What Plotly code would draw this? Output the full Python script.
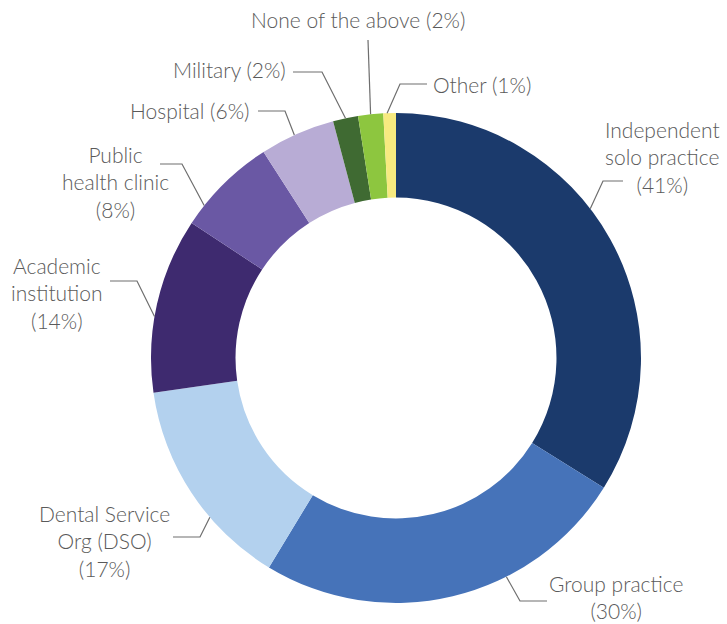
import math
import plotly.graph_objects as go

# data
labels = ['Independent solo practice', 'Group practice', 'Dental Service Org (DSO)',
          'Academic institution', 'Public health clinic', 'Hospital', 'Military',
          'None of the above', 'Other']
values = [41, 30, 17, 14, 8, 6, 2, 2, 1]
colors = ['#1b3a6c', '#4673b9', '#b3d1ee', '#3e2a6f', '#6a58a4',
          '#b8acd5', '#3f6a32', '#8dc63f', '#f7ea80']
label_text = ['Independent<br>solo practice<br>(41%)', 'Group practice<br>(30%)',
              'Dental Service<br>Org (DSO)<br>(17%)', 'Academic<br>institution<br>(14%)',
              'Public<br>health clinic<br>(8%)', 'Hospital (6%)', 'Military (2%)',
              'None of the above (2%)', 'Other (1%)']

W, H = 727, 624
CX, CY, R = 396, 358, 245

# label layout: text pos (px), anchor, leader: fraction along slice, elbow, end
label_layout = [
    dict(tx=662, ty=157, xa='center', frac=0.43, elbow=(603, 181), end=(623, 181)),
    dict(tx=616, ty=597, xa='center', frac=0.35, elbow=(520, 601), end=(547, 601)),
    dict(tx=104, ty=541, xa='center', frac=0.36, elbow=(200, 537), end=(173, 537)),
    dict(tx=57, ty=293, xa='center', frac=0.43, elbow=(137, 281), end=(110, 281)),
    dict(tx=115, ty=182, xa='center', frac=0.21, elbow=(182, 164), end=(160, 164)),
    dict(tx=252, ty=110, xa='right', frac=0.46, elbow=(285, 111), end=(258, 111)),
    dict(tx=288, ty=69, xa='right', frac=0.5, elbow=(322, 72), end=(293, 72)),
    dict(tx=358, ty=19, xa='center', frac=0.5, elbow=None, end=(368, 40)),
    dict(tx=431, ty=85, xa='left', frac=0.3, elbow=(400, 84), end=(427, 84)),
]


def px(x, y):
    return x / W, 1 - y / H


fig = go.Figure(go.Pie(
    labels=labels,
    values=values,
    sort=False,
    direction='clockwise',
    rotation=0,
    hole=0.655,
    textinfo='none',
    marker=dict(colors=colors, line=dict(width=0)),
    domain=dict(x=[(CX - R) / W, (CX + R) / W], y=[(H - CY - R) / H, (H - CY + R) / H]),
    showlegend=False,
))

total = sum(values)
cum = 0
shapes = []
annotations = []
for v, txt, lay in zip(values, label_text, label_layout):
    ang = (cum + lay['frac'] * v) / total * 2 * math.pi
    cum += v
    sx, sy = CX + R * math.sin(ang), CY - R * math.cos(ang)
    pts = [(sx, sy)]
    if lay['elbow']:
        pts.append(lay['elbow'])
    pts.append(lay['end'])
    path = 'M ' + ' L '.join(f'{px(x, y)[0]:.5f},{px(x, y)[1]:.5f}' for x, y in pts)
    shapes.append(dict(type='path', path=path, xref='paper', yref='paper',
                       line=dict(color='#6e6e6e', width=1.2)))
    ax, ay = px(lay['tx'], lay['ty'])
    annotations.append(dict(text=txt, x=ax, y=ay, xref='paper', yref='paper',
                            xanchor=lay['xa'], yanchor='middle', align='center',
                            showarrow=False,
                            font=dict(family='Lato', size=21, color='#5a5a5a', weight=300)))

fig.update_layout(
    width=W, height=H,
    margin=dict(l=0, r=0, t=0, b=0),
    paper_bgcolor='white',
    plot_bgcolor='white',
    shapes=shapes,
    annotations=annotations,
)

fig.write_html("out.html", config={'displayModeBar': False},
               post_script="document.body.style.margin='0';")
